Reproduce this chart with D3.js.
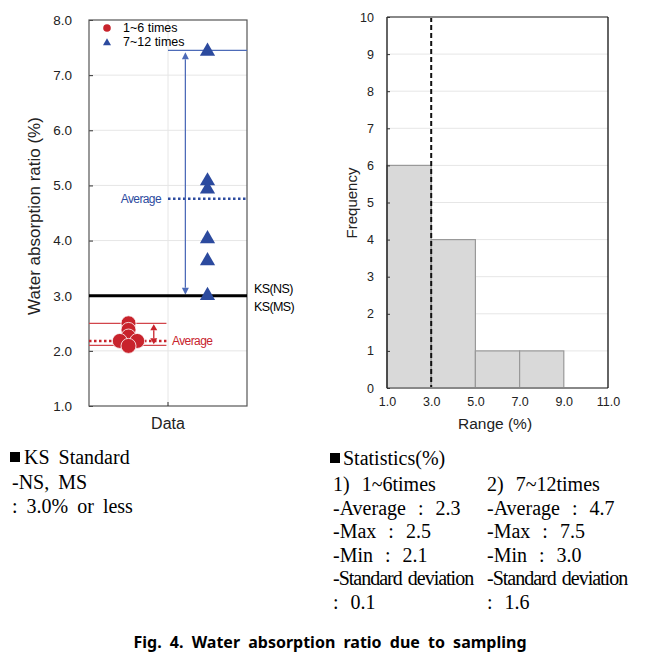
<!DOCTYPE html>
<html><head><meta charset="utf-8">
<script src="https://cdn.jsdelivr.net/npm/d3@7"></script>
<style>body{margin:0;background:#fff}svg{display:block}</style>
</head><body>
<script>
// ---------- data ----------
const leftTicks = [1,2,3,4,5,6,7,8];
const groupNames = ["1~6 times","7~12 times"];
const redValues = [2.5, 2.38, 2.26, 2.18, 2.18, 2.09];
const redJitter = [0, 0, 0, -0.11, 0.11, 0];
const blueValues = [7.45, 5.1, 4.95, 4.05, 3.65, 3.02];
const redRef = {max:2.5, min:2.1, avg:2.18};
const blueRef = {max:7.45, min:3.0, avg:4.76};
const ksStandard = 3.0;
const binEdges = [1,3,5,7,9,11];
const binCounts = [6,4,1,1,0];
const rightXTicks = [1,3,5,7,9,11];
const rightYTicks = [0,1,2,3,4,5,6,7,8,9,10];
const ksTextLines = ["KS Standard","-NS, MS",": 3.0% or less"];
const statsCol1 = ["1) 1~6times","-Average : 2.3","-Max : 2.5","-Min : 2.1","-Standard deviation",": 0.1"];
const statsCol2 = ["2) 7~12times","-Average : 4.7","-Max : 7.5","-Min : 3.0","-Standard deviation",": 1.6"];
const caption = "Fig. 4. Water absorption ratio due to sampling";

const W=659,H=662;
const svg=d3.select("body").append("svg").attr("width",W).attr("height",H);
const sans="'Liberation Sans', Arial, sans-serif";
const serif="'Liberation Serif','Times New Roman',serif";
const RED="#c8232c", REDL="#d2454b", BLUE="#2c4a9e", BLUEL="#4d6bb8";

// ---------- left chart ----------
const L={l:89,r:247,t:20,b:406};
const yL=d3.scaleLinear().domain([1,8]).range([L.b,L.t]);
const xL=d3.scaleLinear().domain([0,2]).range([L.l,L.r]);
const gL=svg.append("g");
gL.selectAll(".gy").data(leftTicks.slice(1,-1)).join("line")
  .attr("x1",L.l).attr("x2",L.r).attr("y1",d=>yL(d)).attr("y2",d=>yL(d))
  .attr("stroke","#e6e6e6").attr("stroke-width",1);
gL.append("line").attr("x1",xL(1)).attr("x2",xL(1)).attr("y1",L.t).attr("y2",L.b)
  .attr("stroke","#e6e6e6");
const axL=d3.axisLeft(yL).tickValues(leftTicks).tickFormat(d3.format(".1f")).tickSize(-4).tickPadding(17);
const ga=gL.append("g").attr("transform",`translate(${L.l},0)`).call(axL);
ga.select(".domain").remove();
ga.selectAll("text").attr("font-family",sans).attr("font-size",13.5).attr("fill","#222");
ga.selectAll("line").attr("stroke","#333");
gL.append("rect").attr("x",L.l).attr("y",L.t).attr("width",L.r-L.l).attr("height",L.b-L.t)
  .attr("fill","none").attr("stroke","#555").attr("stroke-width",1.2);
gL.append("line").attr("x1",xL(1)).attr("x2",xL(1)).attr("y1",L.b).attr("y2",L.b-4).attr("stroke","#333");

const redX0=xL(0), redX1=xL(0.98);
[redRef.max, redRef.min].forEach(v=>{
  gL.append("line").attr("x1",redX0).attr("x2",redX1).attr("y1",yL(v)).attr("y2",yL(v))
    .attr("stroke",REDL).attr("stroke-width",1.3);
});
gL.append("line").attr("x1",redX0).attr("x2",redX1).attr("y1",yL(redRef.avg)).attr("y2",yL(redRef.avg))
  .attr("stroke",RED).attr("stroke-width",2.5).attr("stroke-dasharray","2.5,2.5");
const bX0=xL(1), bX1=xL(2);
[blueRef.max, blueRef.min].forEach(v=>{
  gL.append("line").attr("x1",bX0).attr("x2",bX1).attr("y1",yL(v)).attr("y2",yL(v))
    .attr("stroke",BLUEL).attr("stroke-width",1.3);
});
gL.append("line").attr("x1",bX0).attr("x2",bX1).attr("y1",yL(blueRef.avg)).attr("y2",yL(blueRef.avg))
  .attr("stroke",BLUE).attr("stroke-width",2.5).attr("stroke-dasharray","2.5,2.5");

function dblArrow(x,y1,y2,col,hw,hl){
  const g=gL.append("g");
  g.append("line").attr("x1",x).attr("x2",x).attr("y1",y1+hl).attr("y2",y2-hl).attr("stroke",col).attr("stroke-width",1.3);
  g.append("path").attr("d",`M${x},${y1} L${x-hw},${y1+hl} L${x+hw},${y1+hl}Z`).attr("fill",col);
  g.append("path").attr("d",`M${x},${y2} L${x-hw},${y2-hl} L${x+hw},${y2-hl}Z`).attr("fill",col);
}
dblArrow(xL(1.22), yL(blueRef.max)+2, yL(blueRef.min)-1, BLUEL, 3.5, 7);
dblArrow(xL(0.82), yL(redRef.max)+1, yL(redRef.min)-1, RED, 3.5, 6);

gL.append("line").attr("x1",L.l).attr("x2",L.r).attr("y1",yL(ksStandard)).attr("y2",yL(ksStandard))
  .attr("stroke","#000").attr("stroke-width",3);

gL.selectAll(".rp").data(redValues).join("circle")
  .attr("cx",(d,i)=>xL(0.5+redJitter[i])).attr("cy",d=>yL(d)).attr("r",7.5)
  .attr("fill",RED).attr("stroke","#fff").attr("stroke-width",0.8);
const tri=d3.symbol().type(d3.symbolTriangle).size(100);
gL.selectAll(".bp").data(blueValues).join("path")
  .attr("d",tri).attr("transform",d=>`translate(${xL(1.5)},${yL(d)+1})`)
  .attr("fill",BLUE);

gL.append("text").attr("x",161).attr("y",yL(blueRef.avg)+4).attr("text-anchor","end")
  .attr("font-family",sans).attr("font-size",12).attr("letter-spacing",-0.6).attr("fill",BLUE).text("Average");
gL.append("text").attr("x",172).attr("y",yL(redRef.avg)+4)
  .attr("font-family",sans).attr("font-size",12).attr("letter-spacing",-0.6).attr("fill",RED).text("Average");
gL.append("text").attr("x",254).attr("y",yL(ksStandard)-3).attr("font-family",sans).attr("font-size",12.5).attr("letter-spacing",-0.6).text("KS(NS)");
gL.append("text").attr("x",254).attr("y",yL(ksStandard)+15).attr("font-family",sans).attr("font-size",12.5).attr("letter-spacing",-0.6).text("KS(MS)");

gL.append("circle").attr("cx",107).attr("cy",28).attr("r",3.8).attr("fill",RED);
gL.append("text").attr("x",123).attr("y",32).attr("font-family",sans).attr("font-size",12.5).text(groupNames[0]);
gL.append("path").attr("d",d3.symbol().type(d3.symbolTriangle).size(28)).attr("transform","translate(107,43)").attr("fill",BLUE);
gL.append("text").attr("x",123).attr("y",46).attr("font-family",sans).attr("font-size",12.5).text(groupNames[1]);

gL.append("text").attr("transform","translate(40,216) rotate(-90)").attr("text-anchor","middle")
  .attr("font-family",sans).attr("font-size",17).attr("fill","#222").text("Water absorption ratio (%)");
gL.append("text").attr("x",xL(1)).attr("y",429).attr("text-anchor","middle")
  .attr("font-family",sans).attr("font-size",16).attr("fill","#222").text("Data");

// ---------- right chart ----------
const R={l:387,r:608,t:17,b:388};
const xR=d3.scaleLinear().domain([1,11]).range([R.l,R.r]);
const yR=d3.scaleLinear().domain([0,10]).range([R.b,R.t]);
const gR=svg.append("g");
gR.selectAll(".gy").data(rightYTicks.slice(1,-1)).join("line")
  .attr("x1",R.l).attr("x2",R.r).attr("y1",d=>yR(d)).attr("y2",d=>yR(d))
  .attr("stroke","#e6e6e6");
const bins=binCounts.map((c,i)=>({x0:binEdges[i],x1:binEdges[i+1],c}));
gR.selectAll(".bar").data(bins.filter(b=>b.c>0)).join("rect")
  .attr("x",d=>xR(d.x0)).attr("width",d=>xR(d.x1)-xR(d.x0))
  .attr("y",d=>yR(d.c)).attr("height",d=>yR(0)-yR(d.c))
  .attr("fill","#d9d9d9").attr("stroke","#999").attr("stroke-width",1.2);
gR.append("line").attr("x1",xR(ksStandard)).attr("x2",xR(ksStandard)).attr("y1",R.t).attr("y2",R.b)
  .attr("stroke","#111").attr("stroke-width",2).attr("stroke-dasharray","5,3");
gR.append("line").attr("x1",R.l).attr("x2",R.r).attr("y1",R.t).attr("y2",R.t).attr("stroke","#888").attr("stroke-width",2);
gR.append("line").attr("x1",R.l).attr("x2",R.r).attr("y1",R.b).attr("y2",R.b).attr("stroke","#888").attr("stroke-width",2);
gR.append("line").attr("x1",R.l).attr("x2",R.l).attr("y1",R.t).attr("y2",R.b).attr("stroke","#111").attr("stroke-width",1.3);
gR.append("line").attr("x1",R.r).attr("x2",R.r).attr("y1",R.t).attr("y2",R.b).attr("stroke","#111").attr("stroke-width",1.3);
const ayR=gR.append("g").attr("transform",`translate(${R.l},0)`)
  .call(d3.axisLeft(yR).tickValues(rightYTicks).tickFormat(d3.format("d")).tickSize(-3).tickPadding(13));
ayR.select(".domain").remove();
ayR.selectAll("text").attr("font-family",sans).attr("font-size",12.5).attr("fill","#222");
ayR.selectAll("line").attr("stroke","#333");
const axR=gR.append("g").attr("transform",`translate(0,${R.b})`)
  .call(d3.axisBottom(xR).tickValues(rightXTicks).tickFormat(d3.format(".1f")).tickSize(0).tickPadding(9));
axR.select(".domain").remove();
axR.selectAll("text").attr("font-family",sans).attr("font-size",12.5).attr("fill","#222");
gR.append("text").attr("transform","translate(357,203) rotate(-90)").attr("text-anchor","middle")
  .attr("font-family",sans).attr("font-size",15).attr("fill","#222").text("Frequency");
gR.append("text").attr("x",495).attr("y",429).attr("text-anchor","middle")
  .attr("font-family",sans).attr("font-size",15.5).attr("fill","#222").text("Range (%)");

// ---------- text blocks ----------
const gT=svg.append("g").attr("font-family",serif).attr("font-size",20).attr("fill","#000").attr("word-spacing",7);
gT.append("rect").attr("x",10).attr("y",452).attr("width",10).attr("height",10).attr("fill","#000");
gT.selectAll(".ks").data(ksTextLines).join("text")
  .attr("x",(d,i)=>i===0?24:12).attr("y",(d,i)=>464+i*24.5).attr("word-spacing",4).text(d=>d);
gT.append("rect").attr("x",330).attr("y",453).attr("width",10).attr("height",10).attr("fill","#000");
gT.append("text").attr("x",343).attr("y",465).attr("word-spacing",0).text("Statistics(%)");
gT.selectAll(".c1").data(statsCol1).join("text")
  .attr("x",333).attr("y",(d,i)=>491+i*23.5).attr("letter-spacing",d=>d.startsWith("-Standard")?-1:0)
  .attr("word-spacing",d=>d.startsWith("-Standard")?2:7).text(d=>d);
gT.selectAll(".c2").data(statsCol2).join("text")
  .attr("x",487).attr("y",(d,i)=>491+i*23.5).attr("letter-spacing",d=>d.startsWith("-Standard")?-1:0)
  .attr("word-spacing",d=>d.startsWith("-Standard")?2:7).text(d=>d);

svg.append("text").attr("x",330).attr("y",648).attr("text-anchor","middle")
  .attr("font-family","'Noto Sans','Open Sans',sans-serif").attr("font-weight","bold").attr("font-size",16)
  .attr("word-spacing",4).text(caption);
</script>
</body></html>
